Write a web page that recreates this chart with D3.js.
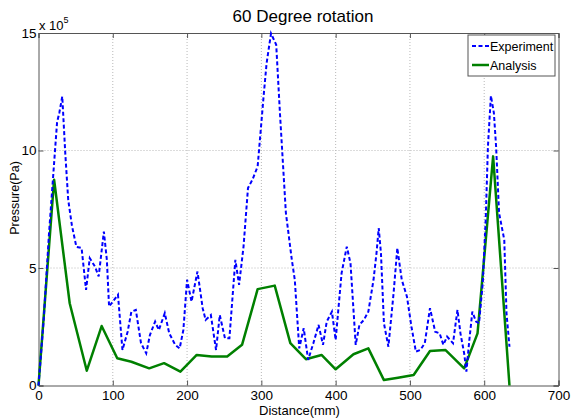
<!DOCTYPE html>
<html>
<head>
<meta charset="utf-8">
<script src="https://cdn.jsdelivr.net/npm/d3@7"></script>
<style>
  html, body { margin: 0; padding: 0; background: #fff; }
  svg text { font-family: "Liberation Sans", Arial, sans-serif; fill: #000; }
</style>
</head>
<body>
<div id="chart"></div>
<script>
// Data (pressure in units of 1e5 Pa)
const expDistance = [0, 7, 14, 22, 25, 28, 32, 36, 40, 45, 51, 58, 64, 69, 76, 81, 88, 92, 95, 107,
  113, 120, 125, 131, 138, 145, 150, 157, 162, 170, 176, 184, 190, 195, 200, 206, 214, 221, 225, 232,
  239, 244, 251, 257, 265, 270, 276, 282, 288, 295, 303, 307, 313, 320, 325, 333, 341, 345, 351, 357,
  363, 370, 377, 383, 388, 395, 400, 408, 415, 420, 427, 432, 438, 444, 451, 455, 458, 461, 465, 471,
  478, 483, 489, 496, 502, 508, 514, 520, 527, 534, 540, 545, 550, 554, 558, 564, 568, 573, 576, 580,
  584, 589, 593, 598, 602, 605, 609, 613, 616, 620, 627, 630, 634];
const expPressure = [0, 2.8, 6.4, 9.9, 11.2, 11.6, 12.3, 9.9, 7.9, 6.8, 5.9, 5.85, 4.07, 5.42, 5.06, 4.64, 6.55, 5.35, 3.36, 3.86,
  1.51, 2.29, 3.14, 3.22, 1.8, 1.37, 2.15, 2.72, 2.36, 3.08, 2.22, 1.73, 1.58, 2.36, 4.5, 3.57, 4.85, 3.29, 2.79, 3.0,
  1.51, 3.0, 2.01, 2.01, 5.35, 4.28, 5.91, 8.4, 8.76, 9.32, 12.3, 13.7, 14.98, 14.5, 11.6, 7.35, 5.35, 4.5, 1.58, 2.44,
  1.09, 1.8, 2.58, 1.73, 2.72, 3.14, 1.94, 4.78, 5.91, 5.2, 1.73, 2.58, 2.79, 3.14, 4.5, 5.63, 6.7, 5.63, 2.65, 1.65,
  3.93, 5.85, 4.5, 3.78, 2.51, 1.44, 1.51, 1.8, 3.29, 2.29, 2.22, 1.73, 2.08, 1.94, 1.8, 3.22, 2.22, 1.37, 0.59, 1.94,
  3.14, 2.72, 2.65, 4.35, 7.05, 10.17, 12.33, 11.6, 10.17, 7.34, 6.2, 3.08, 1.65];

const anaDistance = [0, 21, 42, 65, 85, 106, 125, 149, 169, 191, 213, 233, 254, 274, 295, 318,
  339, 360, 381, 400, 424, 444, 465, 484, 505, 527, 548, 573, 591, 612, 634];
const anaPressure = [0, 8.76, 3.5, 0.63, 2.53, 1.16, 1.01, 0.73, 0.95, 0.59, 1.3, 1.23, 1.23, 1.73, 4.1, 4.25,
  1.8, 1.12, 1.3, 0.69, 1.33, 1.58, 0.23, 0.33, 0.45, 1.47, 1.51, 0.73, 2.22, 9.75, 0];

const xTicks = [0, 100, 200, 300, 400, 500, 600, 700];
const yTicks = [0, 5, 10, 15];

const W = 572, H = 419;
const margin = { top: 33, right: 13.5, bottom: 33.5, left: 38.5 };
const width = W - margin.left - margin.right;
const height = H - margin.top - margin.bottom;

const svg = d3.select("#chart").append("svg").attr("width", W).attr("height", H);
const g = svg.append("g").attr("transform", `translate(${margin.left},${margin.top})`);

const x = d3.scaleLinear().domain([0, 700]).range([0, width]);
const y = d3.scaleLinear().domain([0, 15]).range([height, 0]);

// grid
g.selectAll(".gx").data(xTicks.slice(1, -1)).enter().append("line")
  .attr("x1", d => x(d)).attr("x2", d => x(d)).attr("y1", 0).attr("y2", height)
  .attr("stroke", "#b8b8b8").attr("stroke-dasharray", "1,2");
g.selectAll(".gy").data(yTicks.slice(1, -1)).enter().append("line")
  .attr("x1", 0).attr("x2", width).attr("y1", d => y(d)).attr("y2", d => y(d))
  .attr("stroke", "#b8b8b8").attr("stroke-dasharray", "1,2");

// axes (ticks inward, MATLAB style)
const xAxis = g.append("g").attr("transform", `translate(0,${height})`)
  .call(d3.axisBottom(x).tickValues(xTicks).tickSize(-5).tickPadding(5).tickFormat(d3.format("d")));
const yAxis = g.append("g")
  .call(d3.axisLeft(y).tickValues(yTicks).tickSize(-5).tickPadding(2).tickFormat(d3.format("d")));
g.append("g").call(d3.axisTop(x).tickValues(xTicks).tickSize(-5).tickFormat(""));
g.append("g").attr("transform", `translate(${width},0)`)
  .call(d3.axisRight(y).tickValues(yTicks).tickSize(-5).tickFormat(""));
g.selectAll(".domain").attr("stroke", "#555");
g.selectAll(".tick line").attr("stroke", "#555");
[xAxis, yAxis].forEach(a => a.selectAll("text").style("font-size", "13.5px")
  .style("font-family", "'Liberation Sans', Arial, sans-serif").attr("fill", "#000"));

// lines
const expData = expDistance.map((d, i) => ({ d: d, v: expPressure[i] }));
const anaData = anaDistance.map((d, i) => ({ d: d, v: anaPressure[i] }));
const line = d3.line().x(p => x(p.d)).y(p => y(p.v));

g.append("path").datum(anaData)
  .attr("fill", "none").attr("stroke", "#008000").attr("stroke-width", 2.5)
  .attr("stroke-linejoin", "round").attr("d", line);
g.append("path").datum(expData)
  .attr("fill", "none").attr("stroke", "#0000ff").attr("stroke-width", 2)
  .attr("stroke-dasharray", "4,2.5").attr("d", line);

// title & labels
svg.append("text").attr("x", 303).attr("y", 22).attr("text-anchor", "middle")
  .style("font-size", "17px").text("60 Degree rotation");
svg.append("text").attr("x", 299.5).attr("y", 415).attr("text-anchor", "middle")
  .style("font-size", "13px").text("Distance(mm)");
svg.append("text").attr("transform", "translate(19,198) rotate(-90)").attr("text-anchor", "middle")
  .style("font-size", "12.5px").text("Pressure(Pa)");
const mult = svg.append("text").attr("x", 39).attr("y", 30).style("font-size", "13px");
mult.append("tspan").text("x 10");
mult.append("tspan").attr("dy", -7).style("font-size", "9px").text("5");

// legend
const legend = svg.append("g").attr("transform", "translate(468,35)");
legend.append("rect").attr("width", 87).attr("height", 41)
  .attr("fill", "#fff").attr("stroke", "#555");
[{ label: "Experiment", color: "#0000ff", dash: "4,2.5", w: 2 },
 { label: "Analysis", color: "#008000", dash: null, w: 2.5 }].forEach((it, i) => {
  const yy = 11 + i * 19;
  legend.append("line").attr("x1", 4).attr("x2", 21).attr("y1", yy).attr("y2", yy)
    .attr("stroke", it.color).attr("stroke-width", it.w)
    .attr("stroke-dasharray", it.dash);
  legend.append("text").attr("x", 22).attr("y", yy + 5).style("font-size", "12.5px").text(it.label);
});
</script>
</body>
</html>
